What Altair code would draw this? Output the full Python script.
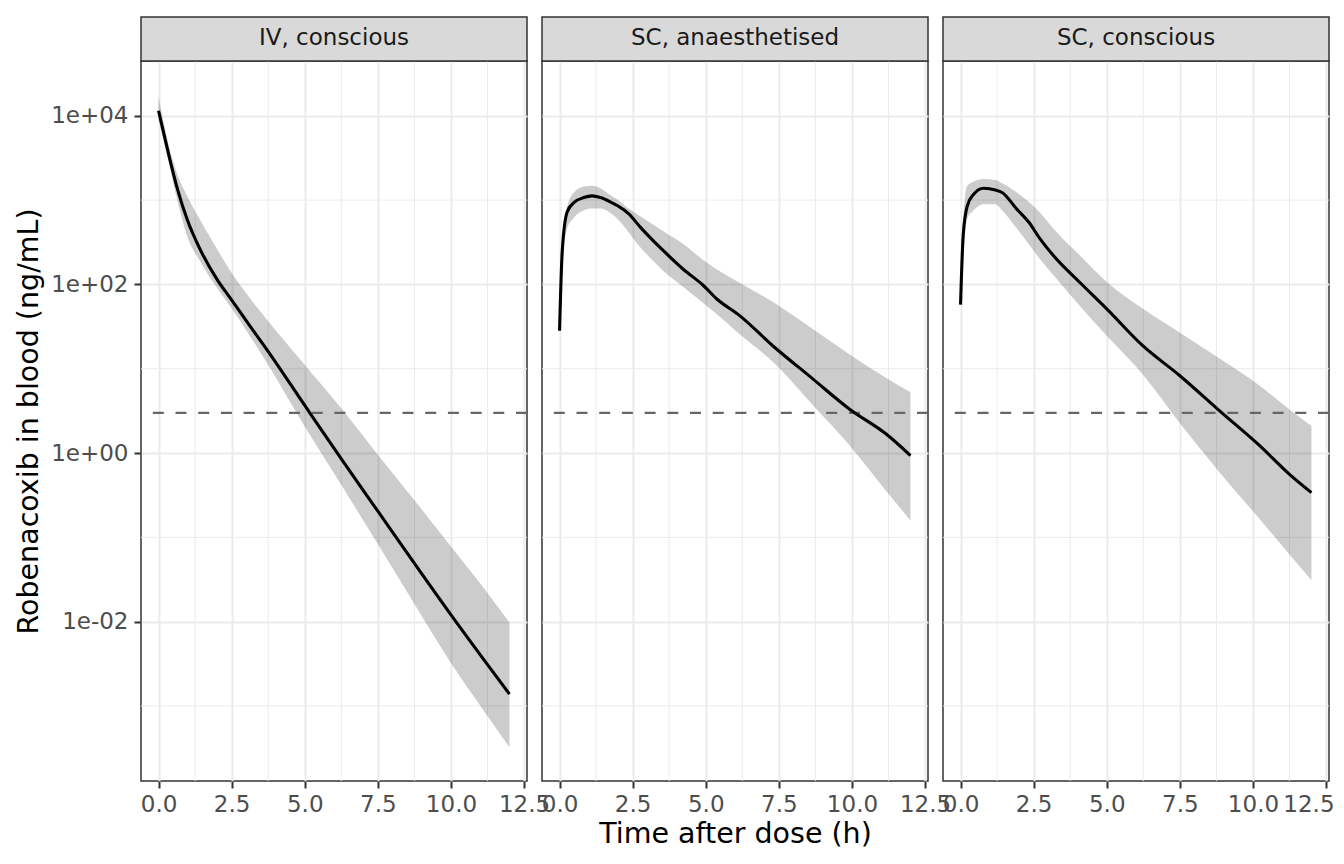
import altair as alt
import numpy as np
import pandas as pd

FONT = "DejaVu Sans"
PANEL_W, PANEL_H, STRIP_H = 386, 720, 44

conditions = ["IV, conscious", "SC, anaesthetised", "SC, conscious"]

# values, as log10(ng/mL): median line, band low, band high
iv_time = [0, 0.3, 0.64, 0.98, 1.43, 2.0, 2.49, 3.14, 3.74, 4.99, 6.25, 7.5, 8.75, 10.0, 11.25, 12.0]
iv_mid = [4.06, 3.61, 3.14, 2.77, 2.41, 2.06, 1.82, 1.50, 1.21, 0.57, -0.07, -0.69, -1.31, -1.92, -2.51, -2.86]
iv_lo = [3.95, 3.52, 3.0, 2.57, 2.27, 1.96, 1.72, 1.38, 1.05, 0.32, -0.38, -1.08, -1.79, -2.49, -3.12, -3.49]
iv_hi = [4.23, 3.72, 3.31, 3.05, 2.76, 2.42, 2.14, 1.83, 1.57, 1.05, 0.53, -0.02, -0.56, -1.11, -1.66, -2.01]

sca_time = [0, 0.09, 0.26, 0.49, 0.83, 1.11, 1.4, 1.73, 2.0, 2.36, 2.76, 3.2, 3.55, 4.23, 4.91,
            5.37, 6.16, 7.3, 8.66, 9.92, 11.17, 12.0]
sca_mid = [1.45, 2.38, 2.86, 2.97, 3.03, 3.05, 3.03, 2.98, 2.93, 2.84, 2.68, 2.52, 2.40, 2.18, 1.99,
           1.83, 1.63, 1.27, 0.88, 0.52, 0.225, -0.03]
sca_lo = [1.45, 2.2, 2.66, 2.79, 2.88, 2.90, 2.90, 2.85, 2.77, 2.62, 2.44, 2.28, 2.16, 1.97, 1.78,
          1.65, 1.41, 1.08, 0.57, 0.09, -0.45, -0.80]
sca_hi = [1.45, 2.55, 2.92, 3.09, 3.16, 3.17, 3.14, 3.06, 3.0, 2.90, 2.81, 2.71, 2.63, 2.48, 2.29,
          2.18, 2.02, 1.79, 1.47, 1.17, 0.89, 0.72]

scc_time = [0, 0.09, 0.23, 0.45, 0.79, 1.19, 1.42, 1.93, 2.33, 2.72, 3.18, 4.09, 5.0, 6.24, 7.49,
            8.86, 10.22, 11.24, 12.0]
scc_mid = [1.76, 2.58, 2.93, 3.07, 3.14, 3.12, 3.09, 2.89, 2.74, 2.54, 2.34, 2.02, 1.71, 1.27, 0.92,
           0.50, 0.09, -0.25, -0.47]
scc_lo = [1.76, 2.35, 2.78, 2.88, 2.95, 2.95, 2.88, 2.66, 2.48, 2.30, 2.11, 1.74, 1.39, 0.93, 0.36,
          -0.23, -0.78, -1.2, -1.51]
scc_hi = [1.76, 2.75, 3.17, 3.22, 3.25, 3.24, 3.20, 3.09, 2.98, 2.85, 2.66, 2.34, 2.03, 1.71, 1.43,
          1.12, 0.80, 0.52, 0.32]

threshold = 3.0  # ng/mL, dashed line

x_major = [0, 2.5, 5, 7.5, 10, 12.5]
x_minor = [1.25, 3.75, 6.25, 8.75, 11.25]
y_major = [1e-2, 1, 1e2, 1e4]
y_minor = [1e-3, 1e-1, 1e1, 1e3]

series = [
    (iv_time, iv_mid, iv_lo, iv_hi),
    (sca_time, sca_mid, sca_lo, sca_hi),
    (scc_time, scc_mid, scc_lo, scc_hi),
]

x_scale = alt.Scale(domain=[-0.6, 12.6], nice=False, zero=False)
y_scale = alt.Scale(type="log", domain=[10 ** -3.89, 10 ** 4.65], nice=False)

y_label_expr = ("datum.value < 0.1 ? '1e-02' : datum.value < 10 ? '1e+00' : "
                "datum.value < 1000 ? '1e+02' : '1e+04'")


def panel(i, name, time, mid, lo, hi):
    df = pd.DataFrame({
        "time": time,
        "conc": np.power(10.0, mid),
        "lo": np.power(10.0, lo),
        "hi": np.power(10.0, hi),
    })
    x_opts = dict(values=x_major, format=".1f", titlePadding=3,
                  title="Time after dose (h)" if i == 1 else "")
    if i == 2:
        # last label would run off the page; pull it in a little
        x_opts.update(labelFlush=5, labelFlushOffset=8)
    else:
        x_opts.update(labelFlush=False)
    x_axis = alt.Axis(**x_opts)
    if i == 0:
        y_axis = alt.Axis(values=y_major, labelExpr=y_label_expr, labelFlush=False,
                          labelPadding=6, titlePadding=7,
                          title="Robenacoxib in blood (ng/mL)")
    else:
        y_axis = alt.Axis(values=y_major, labels=False, ticks=False, title="")

    x_enc = alt.X("time:Q", scale=x_scale, axis=x_axis)
    y_enc = alt.Y("conc:Q", scale=y_scale, axis=y_axis)

    grid_x = alt.Chart(pd.DataFrame({"time": x_minor})).mark_rule(
        color="#EBEBEB", strokeWidth=1).encode(x=x_enc)
    grid_y = alt.Chart(pd.DataFrame({"conc": y_minor})).mark_rule(
        color="#EBEBEB", strokeWidth=1).encode(y=y_enc)
    band = alt.Chart(df).mark_area(color="black", opacity=0.2, interpolate="monotone").encode(
        x=x_enc, y=alt.Y("lo:Q", scale=y_scale, axis=y_axis), y2="hi:Q")
    thresh = alt.Chart(pd.DataFrame({"conc": [threshold]})).mark_rule(
        color="#666666", strokeWidth=2.3, strokeDash=[11, 11.7]).encode(y=y_enc)
    line = alt.Chart(df).mark_line(color="black", strokeWidth=3.1, interpolate="monotone").encode(
        x=x_enc, y=y_enc)

    # facet strip drawn above the panel, outside the plot area
    strip_df = pd.DataFrame({"label": [name]})
    strip_box = alt.Chart(strip_df).mark_rect(
        fill="#D9D9D9", stroke="#333333", strokeWidth=1.5, clip=False).encode(
        x=alt.value(0), x2=alt.value(PANEL_W), y=alt.value(-STRIP_H), y2=alt.value(0))
    strip_text = alt.Chart(strip_df).mark_text(
        font=FONT, fontSize=23, color="#1A1A1A", clip=False).encode(
        text="label:N", x=alt.value(PANEL_W / 2), y=alt.value(-STRIP_H / 2 - 1))

    return alt.layer(grid_x, grid_y, band, thresh, line, strip_box, strip_text).properties(
        width=PANEL_W, height=PANEL_H)


panels = [panel(i, name, *s) for i, (name, s) in enumerate(zip(conditions, series))]

chart = alt.hconcat(*panels, spacing=15, bounds="flush").properties(
    padding={"left": 5, "top": 7, "right": 0, "bottom": 0}
).configure_view(
    stroke="#333333", strokeWidth=1.5
).configure_axis(
    domain=False,
    grid=True,
    gridColor="#EBEBEB",
    gridWidth=2,
    tickColor="#333333",
    tickSize=7,
    tickWidth=2,
    labelPadding=5,
    labelFont=FONT,
    labelFontSize=23,
    labelColor="#4D4D4D",
    titleFont=FONT,
    titleFontSize=28.5,
    titleFontWeight="normal",
    titleColor="black",
)

chart.save("out.html", embed_options={"renderer": "svg", "actions": False})
